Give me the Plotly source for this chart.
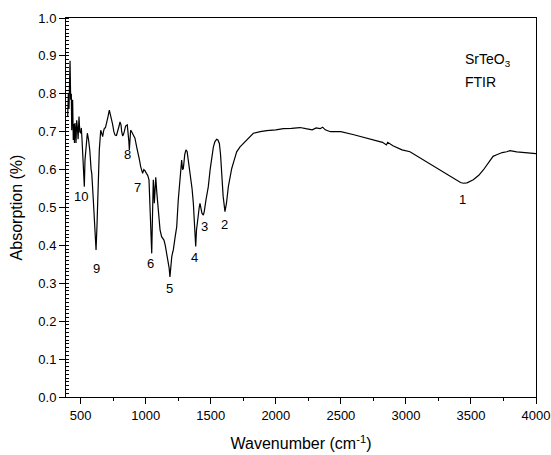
import plotly.graph_objects as go

wavenumber = [400,405,410,418,423,428,431,435,438,443,448,452,456,460,464,469,474,480,487,493,500,505,510,515,520,528,533,540,551,560,570,580,585,597,608,618,625,632,643,654,662,669,675,682,690,700,710,720,728,735,745,755,764,775,785,795,802,810,815,822,827,835,845,858,865,870,874,878,884,892,900,910,917,930,943,952,961,969,976,985,994,1005,1015,1025,1035,1046,1052,1058,1062,1066,1070,1077,1085,1097,1110,1122,1130,1140,1150,1161,1167,1173,1180,1186,1193,1200,1206,1212,1225,1238,1250,1263,1270,1276,1283,1289,1300,1309,1318,1325,1335,1346,1356,1366,1375,1384,1390,1397,1405,1411,1417,1425,1432,1443,1450,1463,1481,1495,1507,1520,1532,1545,1555,1566,1575,1584,1595,1609,1620,1635,1648,1661,1680,1699,1725,1750,1790,1827,1880,1930,2000,2058,2120,2186,2230,2280,2310,2340,2360,2380,2420,2500,2600,2700,2780,2820,2850,2860,2900,2927,2970,3031,3080,3133,3180,3236,3290,3339,3390,3420,3442,3470,3518,3560,3595,3620,3646,3670,3698,3740,3775,3800,3852,3900,3954,3993,4000]
absorption = [0.74,0.80,0.76,0.887,0.784,0.80,0.704,0.76,0.784,0.678,0.72,0.67,0.723,0.70,0.670,0.73,0.713,0.68,0.740,0.70,0.696,0.71,0.68,0.64,0.599,0.555,0.625,0.66,0.696,0.68,0.65,0.60,0.590,0.520,0.45,0.388,0.45,0.538,0.652,0.704,0.69,0.687,0.70,0.709,0.71,0.73,0.74,0.757,0.745,0.74,0.72,0.70,0.691,0.69,0.70,0.715,0.726,0.718,0.70,0.69,0.691,0.70,0.715,0.718,0.70,0.675,0.652,0.69,0.704,0.70,0.695,0.685,0.683,0.66,0.643,0.625,0.608,0.594,0.590,0.60,0.597,0.59,0.585,0.573,0.48,0.379,0.48,0.573,0.55,0.511,0.56,0.580,0.54,0.493,0.441,0.423,0.42,0.414,0.40,0.379,0.37,0.357,0.34,0.317,0.35,0.370,0.38,0.388,0.42,0.449,0.52,0.581,0.61,0.625,0.60,0.603,0.64,0.652,0.648,0.63,0.60,0.581,0.55,0.511,0.46,0.397,0.44,0.467,0.48,0.50,0.511,0.49,0.485,0.480,0.49,0.520,0.555,0.60,0.634,0.66,0.674,0.680,0.678,0.669,0.64,0.590,0.53,0.489,0.51,0.555,0.585,0.603,0.625,0.647,0.66,0.669,0.685,0.696,0.70,0.703,0.705,0.708,0.709,0.711,0.708,0.705,0.71,0.708,0.712,0.705,0.70,0.700,0.692,0.683,0.675,0.672,0.665,0.672,0.663,0.658,0.652,0.647,0.637,0.625,0.615,0.603,0.592,0.583,0.572,0.566,0.564,0.565,0.573,0.585,0.599,0.612,0.625,0.635,0.639,0.645,0.647,0.650,0.647,0.645,0.643,0.643,0.642]

peak_labels = ["1","2","3","4","5","6","7","8","9","10"]
peak_x = [3438,1603,1449,1372,1186,1033,933,857,618,502]
peak_y = [0.522,0.456,0.449,0.367,0.285,0.351,0.554,0.639,0.340,0.530]

FONT = "Arial, 'Liberation Sans', sans-serif"

fig = go.Figure()
fig.add_trace(go.Scatter(x=wavenumber, y=absorption, mode="lines",
                         line=dict(color="black", width=1.2), showlegend=False))

for t, x, y in zip(peak_labels, peak_x, peak_y):
    fig.add_annotation(x=x, y=y, text=t, showarrow=False,
                       font=dict(size=13, color="black", family=FONT))

fig.add_annotation(x=0.845, xref="paper", y=0.918, yref="paper", xanchor="left",
                   text="SrTeO<sub>3</sub>", showarrow=False,
                   font=dict(size=14, color="black", family=FONT))
fig.add_annotation(x=0.845, xref="paper", y=0.857, yref="paper", xanchor="left",
                   text="FTIR", showarrow=False,
                   font=dict(size=14, color="black", family=FONT))

fig.update_layout(
    width=551, height=455,
    margin=dict(l=66, r=15, t=18, b=58),
    paper_bgcolor="white", plot_bgcolor="white",
    font=dict(family=FONT, color="black", size=13),
    xaxis=dict(range=[387, 4000], tickvals=[500,1000,1500,2000,2500,3000,3500,4000],
               automargin=False,
               showgrid=False, zeroline=False, showline=True, linecolor="black",
               linewidth=1, mirror=True, ticks="outside", ticklen=6, tickcolor="black",
               tickfont=dict(size=13),
               minor=dict(dtick=250, tick0=250, ticks="outside", ticklen=3, tickcolor="black", showgrid=False),
               title=dict(text="Wavenumber (cm<sup>-1</sup>)", font=dict(size=16), standoff=16)),
    yaxis=dict(range=[0, 1], dtick=0.1, tickformat=".1f",
               automargin=False,
               showgrid=False, zeroline=False, showline=True, linecolor="black",
               linewidth=1, mirror=True, ticks="outside", ticklen=6, tickcolor="black",
               tickfont=dict(size=13),
               minor=dict(dtick=0.01, ticks="inside", ticklen=3, tickcolor="black", showgrid=False),
               title=dict(text="Absorption (%)", font=dict(size=16), standoff=11)),
)

# remove the page's default 8px body margin so the figure fills the window exactly
fig.write_html("out.html",
               config={"displayModeBar": False},
               post_script="document.body.style.margin='0px';document.body.style.overflow='hidden';")
